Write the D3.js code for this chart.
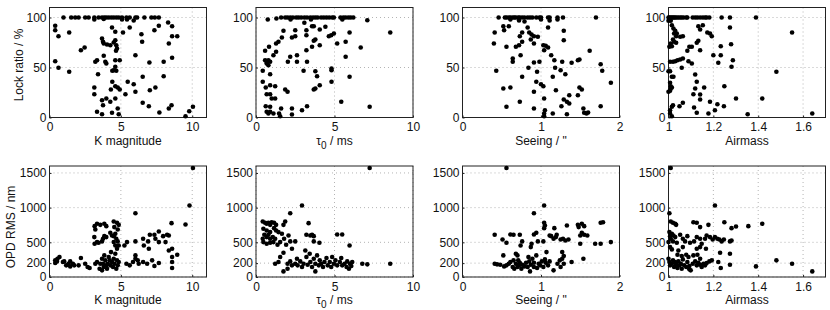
<!DOCTYPE html>
<html><head><meta charset="utf-8">
<script src="https://cdn.jsdelivr.net/npm/d3@7"></script>
<style>
html,body{margin:0;padding:0;background:#fff;}
svg{display:block;font-family:"Liberation Sans",Arial,Helvetica,sans-serif;}
</style></head>
<body>
<svg id="chart" width="830" height="310"></svg>
<script>
// ---------------- DATA ----------------
const kTicks = [0, 5, 10];
const tauTicks = [0, 5, 10];
const seeingTicks = [0, 1, 2];
const airmassTicks = [1, 1.2, 1.4, 1.6];
const lockTicks = [0, 50, 100];
const opdTicks = [0, 200, 500, 1000, 1500];

const xLabels = ["K magnitude", "tau", "Seeing / \"", "Airmass"];
const yLabels = ["Lock ratio / %", "OPD RMS / nm"];

// Lock ratio vs K magnitude
const lockK = [
 [0.98,100],[1.52,100],[1.8,100],[2.04,100],[2.5,100],[2.74,100],[3.14,100],[3.44,100],[3.68,100],[3.84,100],[3.98,100],
 [4.15,100],[4.33,100],[4.5,100],[4.68,100],[4.85,100],[5.08,100],[5.39,100],[5.62,100],[6.02,100],[6.14,100],[6.65,100],
 [7.14,100],[7.38,100],[7.66,100],[3.14,98],[3.8,98.5],[5.08,98],[5.43,98],[5.9,97],
 [0.4,91.7],[0.4,87.3],[0.63,81.3],[1.38,85],[2.2,67.3],[2.46,70],[0.4,56.3],[0.63,49.7],[1.38,45.7],[3.14,30],[3.14,23.3],
 [3.21,55.7],[3.33,57.3],[3.4,43.3],[3.33,5.7],[3.68,3.3],[3.68,79],[3.75,75.7],[3.8,74],[4.03,73],[4.26,72.3],[3.8,61.7],
 [3.91,55.7],[3.98,54],[3.68,17.3],[3.75,12.3],[3.98,19],[4.26,15.7],[4.38,90],[4.61,85.7],[4.5,75],[4.61,77.3],[4.68,72.3],
 [4.73,69],[4.66,66.7],[4.61,57.3],[4.92,57.3],[4.61,50.7],[4.5,47.3],[4.4,46.7],[4.68,46.7],[4.4,35.7],[4.61,31.3],[4.78,30],
 [4.92,28],[4.3,28],[4.61,19],[4.38,4.7],[4.78,9],[4.85,3.3],[5.15,85],[5.62,90],[5.48,35.7],[5.32,23.3],[5.9,33.3],[6.02,62.3],
 [6.02,25.7],[6.44,83.3],[6.49,75.7],[6.53,40.7],[6.53,14.7],[6.96,11.3],[7.0,55],[7.03,27.3],[7.35,87.3],[7.42,30],[7.66,91.7],
 [7.7,5],[8.0,55.7],[8.0,41.3],[8.31,95],[8.36,74],[8.36,9],[8.55,12.3],[8.59,91.3],[8.59,81.3],[8.59,59.7],[8.95,81.3],
 [9.53,1.3],[9.79,6.3],[10.05,10.7]
];
// Lock ratio vs tau0
const lockTau = [
 [0.75,98],[1.6,100],[1.86,100],[2.01,100],[2.18,100],[2.35,100],[2.56,100],[2.71,100],[2.88,100],[3.08,100],[3.25,100],
 [3.46,100],[3.63,100],[3.78,100],[3.93,100],[4.15,100],[4.32,100],[4.49,100],[4.66,100],[4.85,100],[4.96,100],[5.38,100],
 [5.56,100],[5.71,100],[5.88,100],[6.03,100],[6.2,100],[7.09,97.3],[1.3,99],[2.2,98],[3.5,98],[5.5,98],
 [0.58,66.7],[0.83,70.7],[1.28,74],[1.43,75.7],[1.65,80],[1.75,86.7],[1.28,65.7],[1.11,62.3],[0.58,57.3],[0.68,55.7],[0.79,57.3],
 [0.9,55.7],[0.68,54],[0.79,52.3],[0.43,46.7],[0.9,43.3],[0.43,35.7],[0.62,30],[0.9,32.3],[1.22,31.3],[0.68,23.3],[0.9,23.3],
 [1.0,19],[1.22,19],[0.62,11.3],[0.9,10.7],[0.68,5.7],[0.79,4],[0.9,5.7],[1.11,4],[1.47,4],[1.54,1.3],[1.6,9],[1.86,28],
 [2.01,25.7],[2.03,55.7],[2.18,60.7],[2.61,55.7],[2.61,62.3],[2.29,80],[2.5,87.3],[2.5,81.3],[3.08,94.7],[3.21,87.3],[3.25,55.7],
 [3.03,46.7],[3.21,67.3],[3.21,82.3],[3.57,91.3],[3.68,91.3],[3.78,78],[3.68,76.7],[3.57,70.7],[4.06,72.3],[4.06,88],[4.42,90.7],
 [4.64,81.3],[4.79,82.3],[4.96,84],[3.78,46.3],[3.89,41.3],[4.06,32.3],[3.78,29],[3.68,28],[3.25,11.3],[2.93,7.3],[2.29,9],
 [2.29,3],[4.81,49],[4.81,47.3],[4.81,35.7],[5.17,74],[5.43,15.7],[5.71,60.7],[5.71,75.7],[5.96,40.7],[5.96,85],[6.67,70],
 [7.24,10.7],[8.55,85]
];
// Lock ratio vs seeing
const lockSeeing = [
 [0.46,100],[0.54,100],[0.56,100],[0.59,100],[0.61,100],[0.64,100],[0.66,100],[0.68,100],[0.71,100],[0.73,100],[0.76,100],
 [0.79,100],[0.83,100],[0.86,100],[0.89,100],[0.94,100],[0.98,100],[1.0,100],[1.09,100],[1.11,100],[1.21,100],[1.28,100],
 [1.7,100],[0.61,98],[0.72,97],[0.79,96],[1.0,98],[1.11,97],[1.21,98],
 [0.41,85],[0.4,74],[0.43,46.7],[0.52,91.3],[0.53,87.3],[0.59,91.3],[0.56,70.7],[0.52,29],[0.61,30],[0.56,10.7],[0.64,55.7],
 [0.64,59],[0.68,70.7],[0.72,72.3],[0.76,75.7],[0.73,81.3],[0.76,85],[0.83,90],[0.85,85],[0.87,78],[0.88,83],[0.91,81.3],
 [0.96,80.7],[0.91,74],[0.74,62.3],[0.76,40.7],[0.84,49.7],[0.91,55],[0.98,55.7],[0.95,45.7],[0.94,35.7],[1.0,33.3],[1.03,31.3],
 [0.91,25.7],[0.73,15.7],[0.91,9],[1.04,19],[1.05,7.3],[1.04,4],[1.04,1.3],[1.04,67.3],[1.03,72.3],[1.06,71.7],[1.09,70],
 [1.09,90],[1.13,62.3],[1.17,57.3],[1.18,49.7],[1.15,40.7],[1.19,27.3],[1.25,47.3],[1.31,43.3],[1.27,55.7],[1.29,77.3],
 [1.29,86.7],[1.15,4],[1.26,11.3],[1.29,18],[1.33,15.7],[1.36,14],[1.33,3.3],[1.36,22.3],[1.39,54.7],[1.47,57.3],[1.49,58],
 [1.47,22.3],[1.49,30],[1.52,28],[1.54,9],[1.55,4.7],[1.58,4],[1.6,5],[1.62,66.7],[1.76,53.3],[1.78,46.7],[1.76,11.3],[1.89,34.7]
];
// Lock ratio vs airmass
const lockAirmass = [
 [1.0,100],[1.004,100],[1.01,100],[1.015,100],[1.02,100],[1.025,100],[1.03,100],[1.037,100],[1.044,100],[1.052,100],[1.059,100],
 [1.067,100],[1.079,100],[1.084,100],[1.108,100],[1.119,100],[1.129,100],[1.141,100],[1.153,100],[1.163,100],[1.17,100],
 [1.182,100],[1.237,100],[1.274,100],[1.39,100],[1.004,98],[1.01,96.7],[1.0,96.7],
 [1.015,92.3],[1.022,89],[1.03,86.7],[1.025,84],[1.037,84],[1.034,81.3],[1.052,80.7],[1.064,81.3],[1.02,78],[1.025,75.7],
 [1.034,74.7],[1.01,74],[1.004,70.7],[1.015,71.3],[1.133,91.3],[1.153,92.3],[1.141,88],[1.173,85],[1.185,84],[1.193,81.3],
 [1.133,76.7],[1.126,74.7],[1.093,70.7],[1.104,70.7],[1.084,66.7],[1.141,67.3],[1.007,55.7],[1.02,55.7],[1.03,56.3],[1.04,57.3],
 [1.052,58],[1.064,59],[1.059,49.7],[1.089,56.3],[1.104,54],[1.0,46.3],[1.007,46.3],[1.015,40.7],[1.022,40.7],[1.007,34.7],
 [1.01,31.3],[1.015,30],[1.007,26.7],[1.0,25.7],[1.01,29],[1.119,43],[1.126,35.7],[1.119,29],[1.111,23.3],[1.141,23],[1.141,18],
 [1.159,30],[1.02,12.3],[1.015,10.7],[1.007,7.3],[1.007,4],[1.015,1.3],[1.049,11.3],[1.064,14.7],[1.114,10],[1.126,4.7],
 [1.178,4],[1.185,15.7],[1.207,7.3],[1.218,13.3],[1.247,11.3],[1.2,62.3],[1.233,62.3],[1.222,54.7],[1.233,71.3],[1.249,31.3],
 [1.274,90],[1.279,73.3],[1.287,57.3],[1.281,50.7],[1.301,19],[1.418,19],[1.353,3.3],[1.481,45.7],[1.551,85],[1.641,4]
];
// OPD RMS vs K magnitude
const opdK = [
 [10.05,1572],[9.81,1030],[9.53,757],[8.55,776],[6.02,920],
 [0.4,201],[0.4,240],[0.52,225],[0.56,264],[0.7,288],[0.94,216],[1.03,225],[1.17,168],[1.33,192],[1.45,225],[1.45,153],
 [1.64,192],[1.73,168],[2.04,168],[2.2,273],[2.5,192],[2.67,144],[2.81,129],[3.21,192],[3.33,216],
 [3.51,120],[3.56,192],[3.68,96],[3.68,264],[3.75,192],[3.8,144],[3.84,311],[3.91,240],[3.98,168],[4.03,120],[4.08,192],
 [4.15,288],[4.22,240],[4.26,168],[4.31,359],[4.38,216],[4.45,144],[4.5,264],[4.54,192],[4.61,335],[4.68,120],[4.73,240],
 [4.78,168],[4.85,216],
 [3.14,575],[3.33,503],[3.16,479],[3.44,493],[3.68,513],[3.75,551],[3.84,589],[3.98,575],[4.26,637],[4.38,599],[4.5,589],
 [4.61,623],[4.68,551],[4.78,513],[4.5,503],[4.61,455],[4.85,455],[4.73,407],
 [3.16,733],[3.33,767],[3.21,685],[3.56,752],[3.84,767],[3.98,733],[4.5,800],[4.73,781],[4.85,752],[4.54,719],[4.78,685],
 [5.25,455],[5.43,503],[5.39,192],[5.62,168],[6.02,311],[6.02,264],[6.02,513],[5.85,216],[6.25,192],[6.18,240],
 [6.56,551],[6.61,455],[6.56,216],[6.84,192],[6.91,513],[6.96,407],[7.03,608],[7.19,240],[7.35,158],[7.35,608],[7.66,656],
 [7.66,201],[7.96,589],[8.13,503],[8.24,608],[8.36,599],[8.36,383],[8.59,288],[8.59,216],[8.59,129],[8.59,407],[8.95,321],
 [7.42,551],[7.66,503]
];
// OPD RMS vs tau0
const opdTau = [
 [7.24,1572],[2.93,1030],[2.18,920],[3.35,776],[8.55,192],[6.77,192],[7.09,182],[5.96,455],[5.17,613],[5.49,613],
 [0.43,800],[0.58,781],[0.68,767],[0.79,781],[0.9,752],[1.0,790],[1.15,781],[1.28,752],[0.47,695],[0.68,671],[0.9,647],
 [1.15,704],[1.28,671],[1.43,647],[1.86,800],[1.75,752],
 [0.53,608],[0.68,575],[0.79,608],[0.9,551],[1.07,575],[1.22,551],[0.47,503],[0.68,479],[0.9,493],[1.11,503],[1.37,465],
 [1.54,503],[0.43,551],[1.65,623],[1.79,551],[2.07,599],[2.18,513],[1.92,465],[2.5,513],[2.29,407],
 [3.21,608],[3.46,599],[3.57,608],[3.68,589],[3.68,513],[4.04,493],[1.75,350],[1.54,288],[1.43,216],[1.22,192],[1.75,81],[2.01,120],
 [2.01,192],[2.18,225],[2.29,168],[2.5,192],[2.61,264],[2.65,168],[2.82,225],[2.93,144],[3.03,192],[3.14,383],[3.21,288],
 [3.29,177],[3.42,335],[3.46,216],[3.57,144],[3.68,264],[3.78,192],[3.78,81],[3.89,311],[4.0,168],[4.06,240],[4.15,192],
 [4.27,144],[4.36,216],[4.49,273],[4.57,168],[4.7,216],[4.79,144],[4.85,288],[4.96,192],[5.06,240],[5.17,168],[5.34,216],
 [5.43,273],[5.49,168],[5.64,192],[5.77,144],[5.81,225],[5.98,192],[6.07,158],[6.13,216],[5.92,120]
];
// OPD RMS vs seeing
const opdSeeing = [
 [0.56,1572],[1.04,1030],[0.91,920],[0.41,608],[0.51,541],[0.56,493],[0.61,613],[0.65,608],[0.73,608],[0.74,455],[0.76,513],
 [0.68,335],[0.7,311],[0.52,311],[0.91,613],[0.94,637],[0.88,479],[0.87,431],[0.96,513],[1.04,781],[1.05,743],[1.04,704],
 [1.03,513],[1.07,359],[1.17,704],[1.11,599],[1.13,589],[1.16,551],[1.19,575],[1.2,608],[1.25,541],[1.28,551],[1.31,527],
 [1.35,541],[1.33,743],[1.27,359],[1.29,302],[1.39,216],[1.47,752],[1.48,719],[1.52,767],[1.55,733],[1.5,599],[1.52,637],
 [1.55,608],[1.59,599],[1.5,479],[1.54,264],[1.69,479],[1.76,479],[1.76,781],[1.79,790],[1.89,503],[1.16,96],
 [0.41,192],[0.44,182],[0.48,177],[0.53,153],[0.56,168],[0.59,192],[0.61,216],[0.64,144],[0.65,240],[0.66,120],[0.68,192],
 [0.7,144],[0.71,240],[0.72,168],[0.73,206],[0.75,120],[0.76,177],[0.79,153],[0.81,206],[0.83,144],[0.84,288],[0.85,225],
 [0.86,81],[0.87,177],[0.89,264],[0.91,144],[0.91,206],[0.94,311],[0.95,129],[0.97,192],[0.99,168],[1.01,225],[1.03,144],
 [1.05,254],[1.06,206],[1.09,168],[1.11,225],[1.21,192],[1.24,240],[1.27,264],[1.29,192],[1.25,144]
];
// OPD RMS vs airmass
const opdAirmass = [
 [1.01,1572],[1.207,1030],[1.004,920],[1.01,800],[1.02,781],[1.03,767],[1.034,752],[1.111,790],[1.126,781],[1.141,719],
 [1.178,752],[1.249,790],[1.281,704],[1.301,728],[1.356,733],[1.418,767],
 [1.004,647],[1.015,623],[1.007,589],[1.022,599],[1.03,575],[1.01,551],[1.02,513],[1.037,493],[1.052,608],[1.064,551],
 [1.074,513],[1.084,589],[1.096,493],[1.114,513],[1.126,575],[1.141,551],[1.148,479],[1.163,551],[1.17,599],[1.185,575],
 [1.197,541],[1.207,575],[1.218,551],[1.227,541],[1.237,513],[1.247,541],[1.274,513],[1.281,527],
 [1.0,503],[1.007,431],[1.015,398],[1.044,383],[1.064,431],[1.126,407],[1.141,431],[1.167,407],
 [1.04,321],[1.059,302],[1.079,321],[1.089,288],[1.111,311],[1.129,321],[1.141,264],[1.23,350],[1.274,335],
 [1.0,264],[1.004,216],[1.007,168],[1.015,192],[1.02,240],[1.025,144],[1.03,216],[1.034,177],[1.04,129],[1.044,225],
 [1.049,168],[1.055,192],[1.059,120],[1.064,254],[1.07,168],[1.079,144],[1.084,216],[1.093,158],[1.099,96],[1.108,192],
 [1.119,225],[1.126,168],[1.133,206],[1.141,177],[1.148,144],[1.156,192],[1.163,168],[1.17,201],[1.182,225],[1.193,240],
 [1.093,110],[1.222,216],[1.233,129],[1.274,177],[1.39,153],[1.481,240],[1.551,192],[1.641,81]
];

// ---------------- LAYOUT ----------------
const colLeft = [49.5, 256, 462.5, 668.5];
const plotW = 157;
const rowTop = [7.5, 166];
const rowH = [110, 111];

const xCols = [
  {domain:[0,11], ticks:kTicks},
  {domain:[0,10], ticks:tauTicks},
  {domain:[0,2], ticks:seeingTicks},
  {domain:[1,1.7], ticks:airmassTicks}
];
const yRows = [
  {domain:[0,110], ticks:lockTicks, data:[lockK, lockTau, lockSeeing, lockAirmass]},
  {domain:[0,1600], ticks:opdTicks, data:[opdK, opdTau, opdSeeing, opdAirmass]}
];

const svg = d3.select("#chart");
const fmt = d => String(d);

yRows.forEach((row, ri) => {
  xCols.forEach((col, ci) => {
    const x0 = colLeft[ci], y0 = rowTop[ri], h = rowH[ri];
    const xs = d3.scaleLinear().domain(col.domain).range([x0, x0 + plotW]);
    const ys = d3.scaleLinear().domain(row.domain).range([y0 + h, y0]);
    const g = svg.append("g");

    // grid
    g.selectAll(null).data(col.ticks).enter().append("line")
      .attr("x1", d => xs(d)).attr("x2", d => xs(d))
      .attr("y1", y0).attr("y2", y0 + h)
      .attr("stroke", "#b4b4b4").attr("stroke-width", 1)
      .attr("stroke-dasharray", "1,3");
    g.selectAll(null).data(row.ticks).enter().append("line")
      .attr("x1", x0).attr("x2", x0 + plotW)
      .attr("y1", d => ys(d)).attr("y2", d => ys(d))
      .attr("stroke", "#b4b4b4").attr("stroke-width", 1)
      .attr("stroke-dasharray", "1,3");

    // axes with inward ticks
    const xAxis = d3.axisBottom(xs).tickValues(col.ticks).tickFormat(fmt).tickSize(-2).tickPadding(4);
    const yAxis = d3.axisLeft(ys).tickValues(row.ticks).tickFormat(fmt).tickSize(-2).tickPadding(3);
    const gx = g.append("g").attr("transform", `translate(0,${y0 + h})`).call(xAxis);
    const gy = g.append("g").attr("transform", `translate(${x0},0)`).call(yAxis);
    [gx, gy].forEach(a => {
      a.select(".domain").remove();
      a.selectAll(".tick line").attr("stroke", "#222");
      a.selectAll(".tick text").attr("fill", "#111").style("font-size", "12px")
        .style("font-family", '"Liberation Sans",Arial,sans-serif');
    });
    gx.selectAll(".tick text").attr("dy", "0.8em");

    // frame
    g.append("rect").attr("x", x0).attr("y", y0).attr("width", plotW).attr("height", h)
      .attr("fill", "none").attr("stroke", "#222").attr("stroke-width", 1);

    // points
    g.selectAll("circle").data(row.data[ci]).enter().append("circle")
      .attr("cx", d => xs(d[0])).attr("cy", d => ys(d[1]))
      .attr("r", 2.3).attr("fill", "#000");

    // x label
    const lab = g.append("text")
      .attr("x", x0 + plotW / 2).attr("y", y0 + h + 27)
      .attr("text-anchor", "middle").style("font-size", "12px").attr("fill", "#111");
    if (xLabels[ci] === "tau") {
      lab.append("tspan").text("τ");
      lab.append("tspan").attr("dy", 4).style("font-size", "10px").text("0");
      lab.append("tspan").attr("dy", -4).text(" / ms");
    } else {
      lab.text(xLabels[ci]);
    }
  });
});

// y labels
svg.append("text").attr("transform", "translate(23,65) rotate(-90)")
  .attr("text-anchor", "middle").style("font-size", "12px").attr("fill", "#111").text(yLabels[0]);
svg.append("text").attr("transform", "translate(15,227) rotate(-90)")
  .attr("text-anchor", "middle").style("font-size", "12px").attr("fill", "#111").text(yLabels[1]);
</script>
</body></html>
